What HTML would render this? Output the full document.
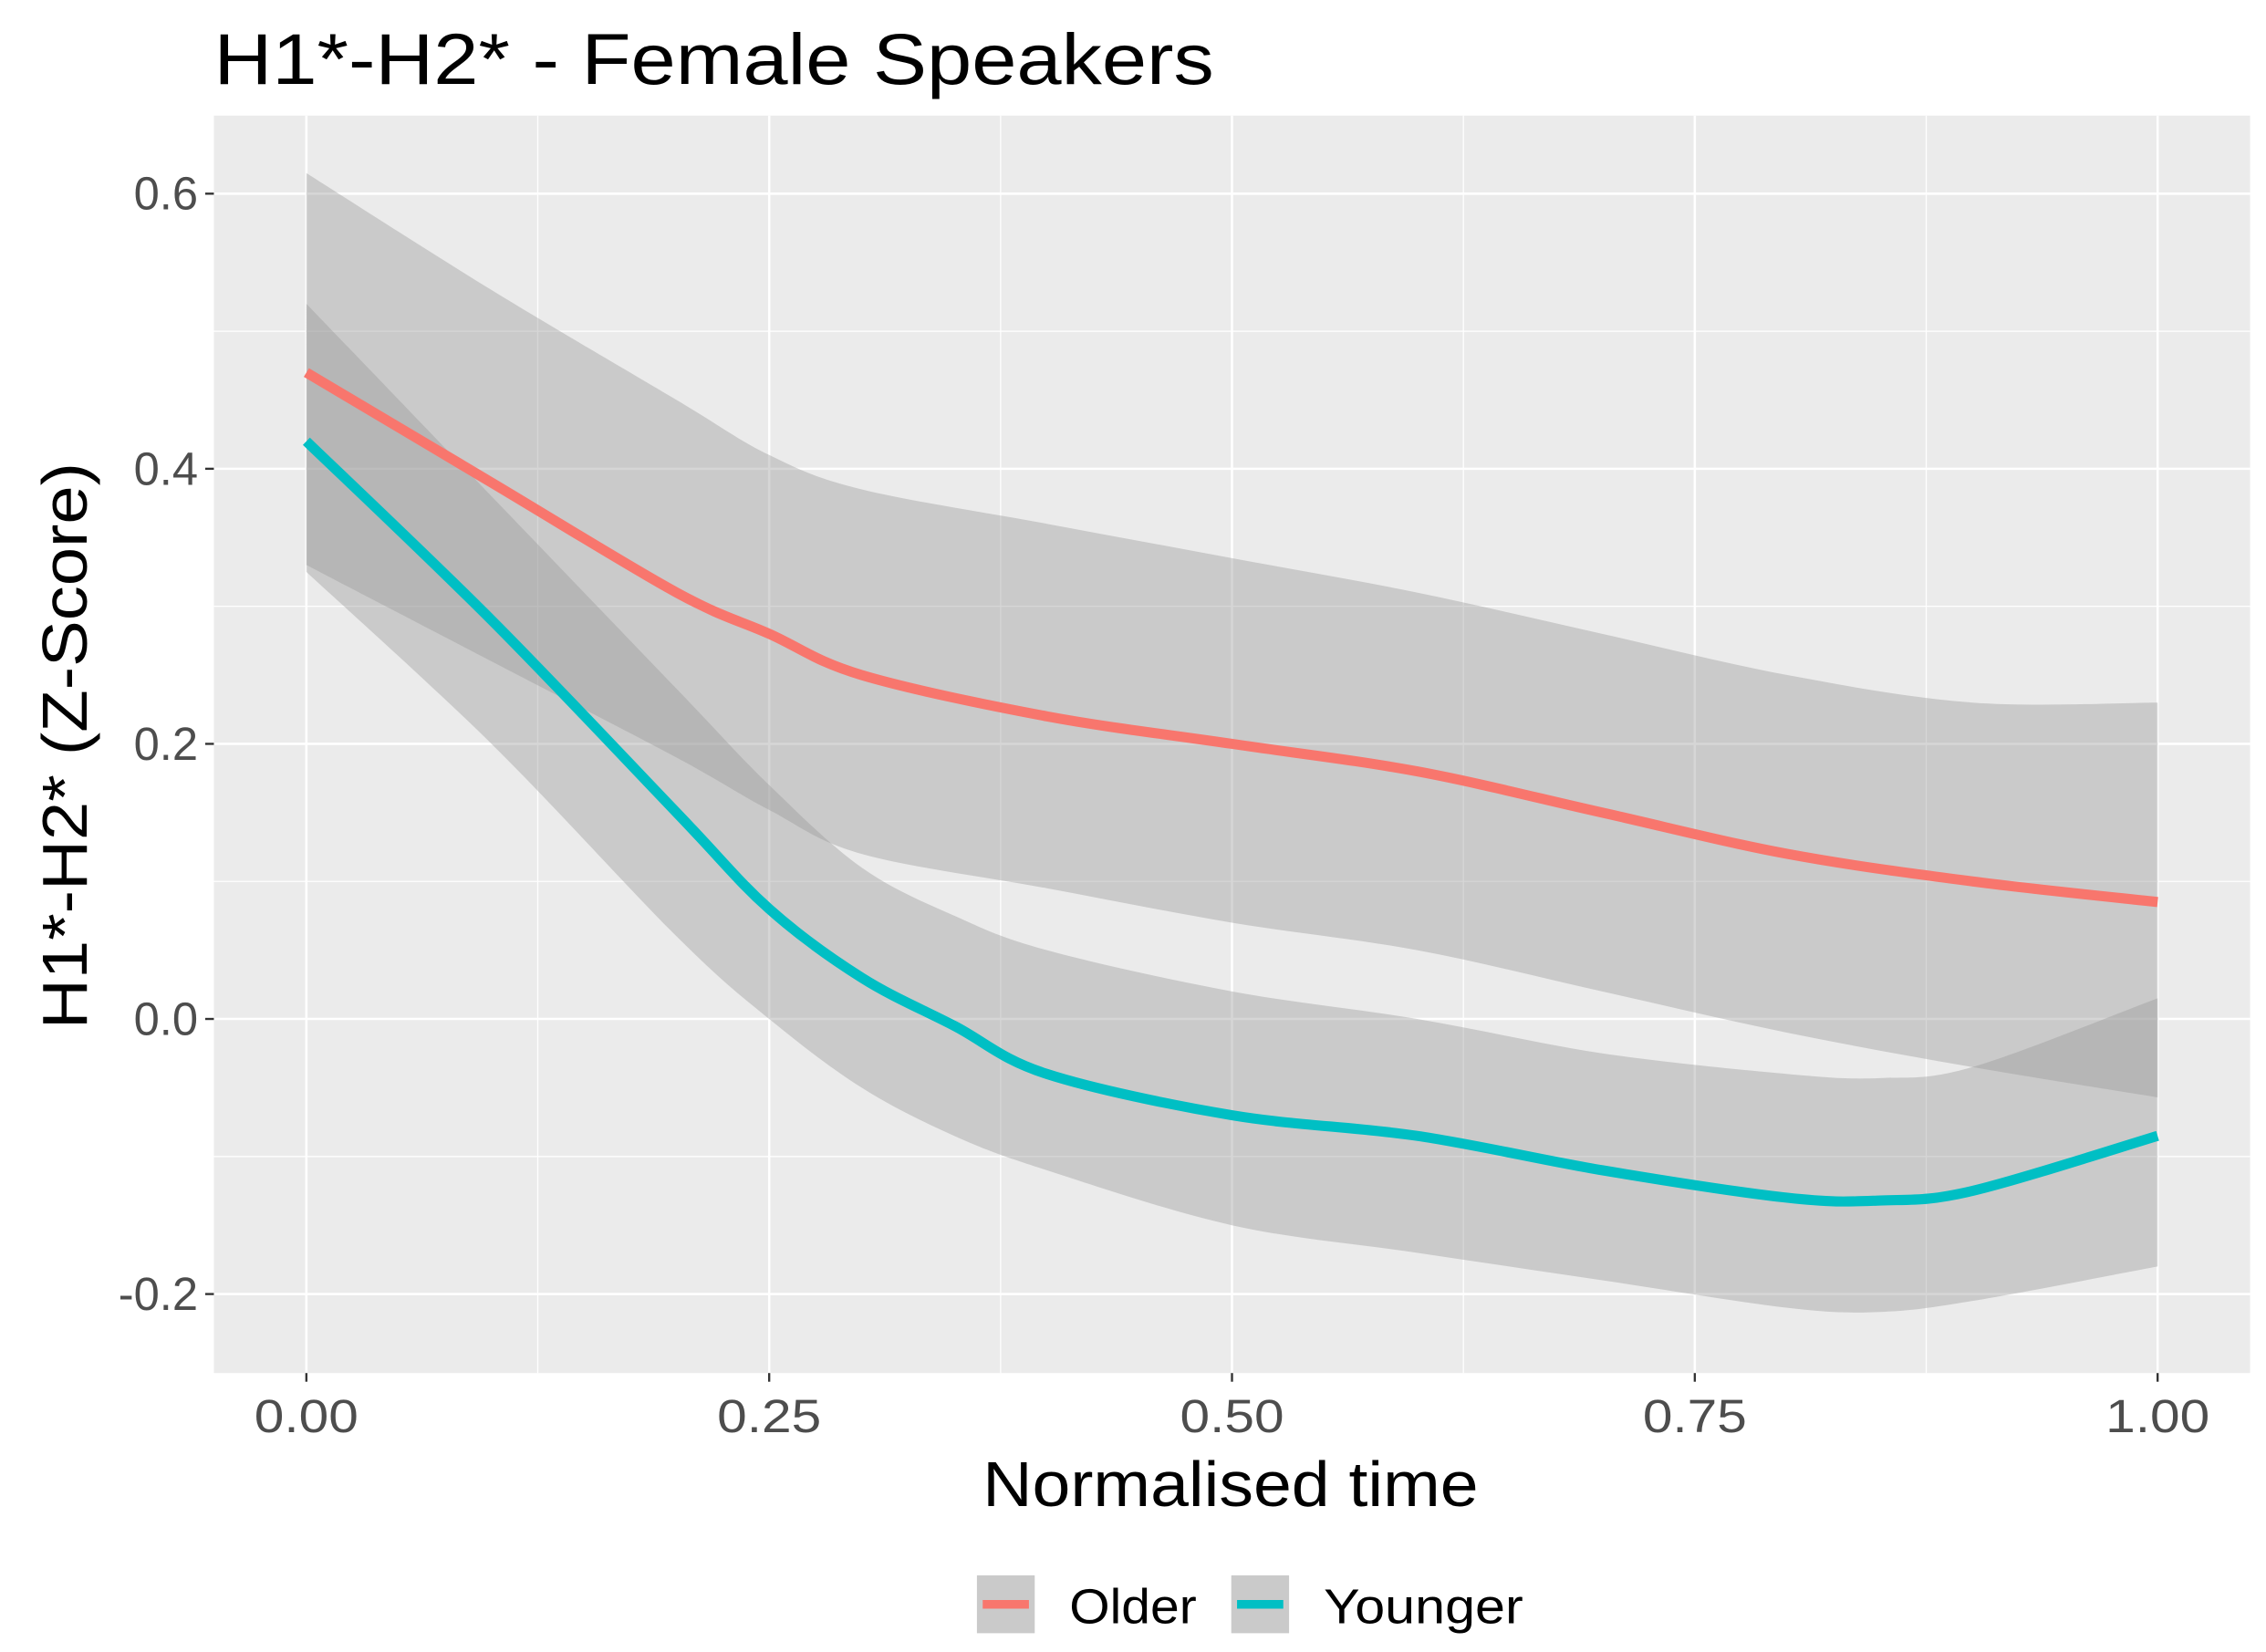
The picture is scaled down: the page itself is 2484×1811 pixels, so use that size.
<!DOCTYPE html>
<html><head><meta charset="utf-8"><style>html,body{margin:0;padding:0;background:#fff}svg{display:block}text{font-family:"Liberation Sans",sans-serif}</style></head>
<body>
<svg id="chart" width="2484" height="1811" viewBox="0 0 1568 1143" preserveAspectRatio="none">
<text x="148" y="58" font-size="50" textLength="692" lengthAdjust="spacingAndGlyphs" fill="#000">H1*-H2* - Female Speakers</text>
<rect x="148" y="80" width="1409" height="870" fill="#EBEBEB"/>
<g id="grid"></g><g id="bands"></g><g id="lines"></g><g id="axes"></g>
<text x="680" y="1042" font-size="44" textLength="343" lengthAdjust="spacingAndGlyphs">Normalised time</text>
<text transform="translate(60,712) rotate(-90)" font-size="44" textLength="392" lengthAdjust="spacingAndGlyphs">H1*-H2* (Z-Score)</text>
<g>
<rect x="676" y="1090" width="40" height="40" fill="#CACACA"/>
<line x1="680" y1="1110" x2="712" y2="1110" stroke="#F8766D" stroke-width="6"/>
<text x="740" y="1123" font-size="34" textLength="88" lengthAdjust="spacingAndGlyphs">Older</text>
<rect x="852" y="1090" width="40" height="40" fill="#CACACA"/>
<line x1="856" y1="1110" x2="888" y2="1110" stroke="#00BFC4" stroke-width="6"/>
<text x="916" y="1123" font-size="34" textLength="138" lengthAdjust="spacingAndGlyphs">Younger</text>
</g>
</svg>
<script>
const xs=[0,0.1,0.2,0.25,0.3,0.4,0.5,0.6,0.7,0.8,0.9,1];
const olderMean=[0.47,0.39,0.31,0.28,0.25,0.22,0.20,0.18,0.15,0.12,0.10,0.085];
const olderUpper=[0.615,0.53,0.45,0.41,0.385,0.36,0.335,0.31,0.28,0.25,0.23,0.23];
const olderLower=[0.33,0.26,0.19,0.152,0.12,0.095,0.07,0.05,0.02,-0.01,-0.035,-0.057];
const youngX=[0,0.1,0.2,0.25,0.3,0.35,0.4,0.5,0.6,0.7,0.8,0.85,0.9,1];
const youngerMean=[0.42,0.29,0.15,0.08,0.03,-0.005,-0.04,-0.07,-0.085,-0.11,-0.13,-0.132,-0.125,-0.085];
const youngerUpper=[0.52,0.38,0.24,0.17,0.11,0.075,0.05,0.02,0.0,-0.025,-0.04,-0.043,-0.035,0.015];
const youngerLower=[0.325,0.2,0.06,0.0,-0.05,-0.085,-0.11,-0.15,-0.17,-0.19,-0.21,-0.213,-0.205,-0.18];
const xTicks=[0,0.25,0.5,0.75,1];
const xTickLabels=["0.00","0.25","0.50","0.75","1.00"];
const yTicks=[-0.2,0,0.2,0.4,0.6];
const yTickLabels=["-0.2","0.0","0.2","0.4","0.6"];
const NS="http://www.w3.org/2000/svg";
const sx=v=>212+v*(1493-212);
const sy=v=>705-v*(571/0.6);
function mk(tag,attrs,parent){const e=document.createElementNS(NS,tag);for(const k in attrs)e.setAttribute(k,attrs[k]);document.getElementById(parent).appendChild(e);return e;}
function smooth(pts){let d="M"+pts[0][0]+","+pts[0][1];for(let i=0;i<pts.length-1;i++){const p0=pts[i-1]||pts[i],p1=pts[i],p2=pts[i+1],p3=pts[i+2]||p2;d+=" C"+(p1[0]+(p2[0]-p0[0])/6)+","+(p1[1]+(p2[1]-p0[1])/6)+" "+(p2[0]-(p3[0]-p1[0])/6)+","+(p2[1]-(p3[1]-p1[1])/6)+" "+p2[0]+","+p2[1];}return d;}
[-0.1,0.1,0.3,0.5].forEach(v=>{const l=mk("line",{x1:148,x2:1557,y1:sy(v),y2:sy(v),stroke:"#fff","stroke-width":0.8},"grid");

});
[0.125,0.375,0.625,0.875].forEach(v=>{const l=mk("line",{y1:80,y2:950,x1:sx(v),x2:sx(v),stroke:"#fff","stroke-width":0.8},"grid");

});
yTicks.forEach((v,i)=>{const l=mk("line",{x1:148,x2:1557,y1:sy(v),y2:sy(v),stroke:"#fff","stroke-width":1.6},"grid");


const t=mk("line",{x1:142,x2:148,y1:sy(v),y2:sy(v),stroke:"#333","stroke-width":1.5},"axes");


const tx=mk("text",{x:137,y:sy(v)+11,"font-size":32,"text-anchor":"end",fill:"#4D4D4D"},"axes");tx.textContent=yTickLabels[i];

});
xTicks.forEach((v,i)=>{const l=mk("line",{y1:80,y2:950,x1:sx(v),x2:sx(v),stroke:"#fff","stroke-width":1.6},"grid");


const t=mk("line",{y1:950,y2:956,x1:sx(v),x2:sx(v),stroke:"#333","stroke-width":1.5},"axes");


const tx=mk("text",{x:sx(v)-36,y:991,"font-size":32,textLength:72,lengthAdjust:"spacingAndGlyphs",fill:"#4D4D4D"},"axes");tx.textContent=xTickLabels[i];

});
function band(x,up,lo,name){const top=x.map((v,i)=>[sx(v),sy(up[i])]);const bot=x.map((v,i)=>[sx(v),sy(lo[i])]).reverse();
const d=smooth(top)+" L"+bot[0][0]+","+bot[0][1]+smooth(bot).replace(/^M[^C]*/,"")+" Z";
const p=mk("path",{d:d,fill:"#999999","fill-opacity":0.4},"bands");

}
band(xs,olderUpper,olderLower,'older-ci-band');
band(youngX,youngerUpper,youngerLower,'younger-ci-band');
const l1=mk("path",{d:smooth(xs.map((v,i)=>[sx(v),sy(olderMean[i])])),fill:"none",stroke:"#F8766D","stroke-width":7},"lines");


const l2=mk("path",{d:smooth(youngX.map((v,i)=>[sx(v),sy(youngerMean[i])])),fill:"none",stroke:"#00BFC4","stroke-width":7},"lines");


</script>
</body></html>
